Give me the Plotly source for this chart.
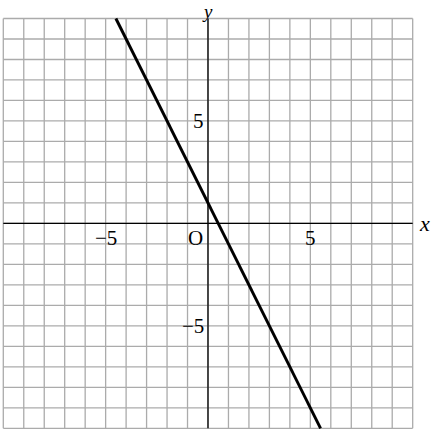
import plotly.graph_objects as go

# data
line_x = [-4.5, 5.5]
line_y = [10, -10]
grid_vals = list(range(-10, 11))
x_tick_vals = [-5, 5]
x_tick_text = ["\u22125", "5"]
y_tick_vals = [5, -5]
y_tick_text = ["5", "\u22125"]

GRID = "#ababab"
FONT = "Liberation Serif"

fig = go.Figure()

shapes = []
for v in grid_vals:
    shapes.append(dict(type="line", x0=v, x1=v, y0=-10, y1=10, xref="x", yref="y",
                       line=dict(color=GRID, width=1.3), layer="below"))
    shapes.append(dict(type="line", x0=-10, x1=10, y0=v, y1=v, xref="x", yref="y",
                       line=dict(color=GRID, width=1.3), layer="below"))
# axes
shapes.append(dict(type="line", x0=-10, x1=10, y0=0, y1=0, xref="x", yref="y",
                   line=dict(color="black", width=1.3), layer="below"))
shapes.append(dict(type="line", x0=0, x1=0, y0=-10, y1=10, xref="x", yref="y",
                   line=dict(color="black", width=1.3), layer="below"))

fig.add_trace(go.Scatter(x=line_x, y=line_y, mode="lines",
                         line=dict(color="black", width=2.9), hoverinfo="skip",
                         showlegend=False))

ann = []
for v, t in zip(x_tick_vals, x_tick_text):
    ann.append(dict(x=v, y=0, xref="x", yref="y", text=t, showarrow=False,
                    xanchor="center", yanchor="top", yshift=-1,
                    font=dict(family=FONT, size=21, color="black")))
for v, t in zip(y_tick_vals, y_tick_text):
    ann.append(dict(x=0, y=v, xref="x", yref="y", text=t, showarrow=False,
                    xanchor="right", yanchor="middle", xshift=-2,
                    font=dict(family=FONT, size=21, color="black")))
ann.append(dict(x=0, y=0, xref="x", yref="y", text="O", showarrow=False,
                xanchor="right", yanchor="top", xshift=-3, yshift=-1,
                font=dict(family=FONT, size=21, color="black")))
ann.append(dict(x=10, y=0, xref="x", yref="y", text="<i>x</i>", showarrow=False,
                xanchor="left", yanchor="middle", xshift=4,
                font=dict(family=FONT, size=22, color="black")))
ann.append(dict(x=0, y=1, xref="x", yref="paper", text="<i>y</i>", showarrow=False,
                xanchor="center", yanchor="top", yshift=0, borderpad=0,
                font=dict(family=FONT, size=19, color="black")))

fig.update_layout(
    width=434, height=429,
    margin=dict(l=0, r=0, t=0, b=0),
    paper_bgcolor="white", plot_bgcolor="white",
    shapes=shapes, annotations=ann,
    xaxis=dict(range=[-10.161, 11.041], visible=False, fixedrange=True),
    yaxis=dict(range=[-10.034, 10.903], visible=False, fixedrange=True),
    showlegend=False,
)

fig.write_html("out.html", config={"displayModeBar": False},
               post_script="document.body.style.margin='0';document.body.style.overflow='hidden';")
